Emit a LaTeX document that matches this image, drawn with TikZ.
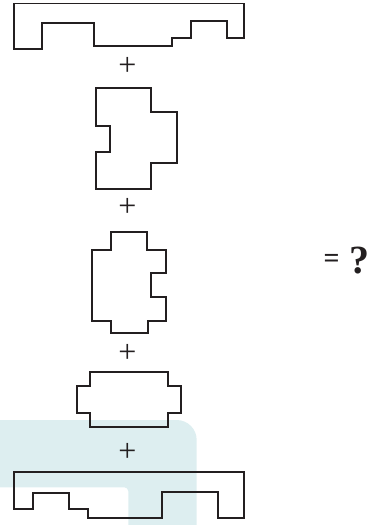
\documentclass[tikz,border=0pt]{standalone}
\usepackage{fontspec}
\setmainfont{Liberation Serif}
\definecolor{trazo}{RGB}{35,31,32}
\definecolor{marca}{RGB}{221,238,240}
\tikzset{
  pieza/.style={draw=trazo,line width=1.9pt,line join=miter},
  signo/.style={inner sep=0pt,anchor=base,text=trazo}
}
\begin{document}
\begin{tikzpicture}[x=1pt,y=-1pt]
  \useasboundingbox (0,0) rectangle (372,525);
  % Marca de agua
  \fill[marca] (0,420) [rounded corners=20pt] -- (196.7,420) [sharp corners] -- (196.7,525)
    -- (128.3,525) [rounded corners=4pt] -- (128.3,487.3) [sharp corners] -- (0,487.3) -- cycle;
  % Pieza 1
  \draw[pieza] (14,3.5) -- (244,3.5) -- (244,37.7) -- (227,37.7) -- (227,20.7) -- (190.7,20.7)
    -- (190.7,37.7) -- (172.3,37.7) -- (172.3,45.7) -- (93.7,45.7) -- (93.7,22.7)
    -- (41.7,22.7) -- (41.7,49.3) -- (14,49.3) -- cycle;
  % Pieza 2
  \draw[pieza] (96,87.7) -- (150.7,87.7) -- (150.7,111.7) -- (177.3,111.7) -- (177.3,163.3)
    -- (150.7,163.3) -- (150.7,189.3) -- (96,189.3) -- (96,152.3) -- (110.3,152.3)
    -- (110.3,125.7) -- (96,125.7) -- cycle;
  % Pieza 3
  \draw[pieza] (111,232) -- (146.7,232) -- (146.7,250) -- (166.3,250) -- (166.3,272.7)
    -- (151.3,272.7) -- (151.3,297.3) -- (166.3,297.3) -- (166.3,321) -- (147.7,321)
    -- (147.7,332.7) -- (111,332.7) -- (111,321) -- (92.2,321) -- (92.2,250) -- (111,250) -- cycle;
  % Pieza 4
  \draw[pieza] (90,372.3) -- (167.7,372.3) -- (167.7,386) -- (180.7,386) -- (180.7,413.3)
    -- (167.7,413.3) -- (167.7,427.3) -- (90,427.3) -- (90,413.3) -- (77.3,413.3)
    -- (77.3,386) -- (90,386) -- cycle;
  % Pieza 5
  \draw[pieza] (14,472) -- (244.3,472) -- (244.3,518.3) -- (218.3,518.3) -- (218.3,492.3)
    -- (162.3,492.3) -- (162.3,518.3) -- (88.3,518.3) -- (88.3,509.3) -- (69.3,509.3)
    -- (69.3,492.7) -- (33,492.7) -- (33,509.3) -- (14,509.3) -- cycle;
  % Signos
  \foreach \y [count=\i] in {67.7,208.3,354.3,453.3}
    \node[signo,font=\fontsize{32}{32}\selectfont] (mas\i) at (127.5,\y+8) {+};
  \node[signo,font=\fontsize{28}{28}\selectfont\bfseries] (igual) at (331.5,267.5) {=};
  \node[signo,font=\fontsize{40}{40}\selectfont\bfseries] (pregunta) at (359,273) {?};
\end{tikzpicture}
\end{document}
